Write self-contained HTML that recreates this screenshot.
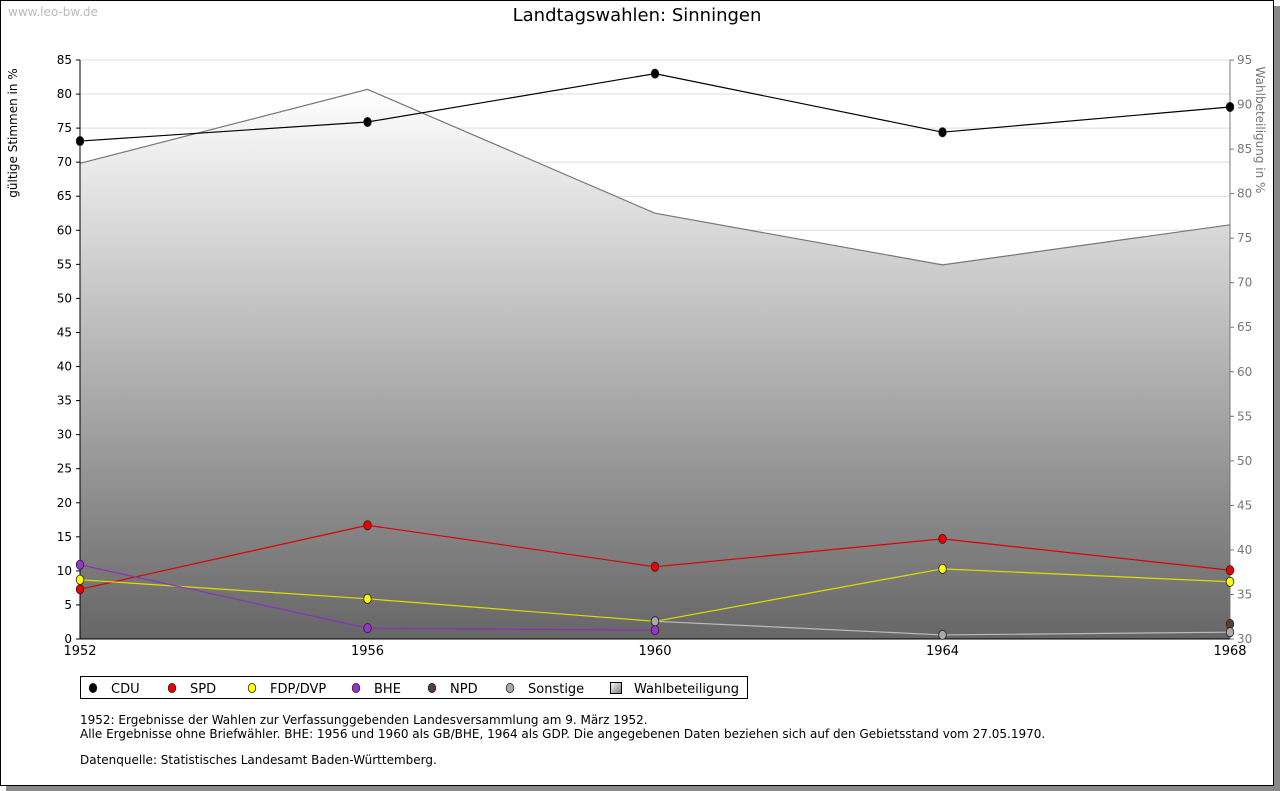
<!DOCTYPE html>
<html><head><meta charset="utf-8"><style>
body{margin:0;background:#fff;font-family:"DejaVu Sans","Liberation Sans",sans-serif;}
#frame{position:absolute;left:0;top:0;width:1272px;height:784px;border:1px solid #000;box-shadow:6px 6px 0 #888;background:#fff;}
</style></head><body>
<div id="frame"></div>
<svg id="c" width="1280" height="791" style="position:absolute;left:0;top:0" font-family="DejaVu Sans, Liberation Sans, sans-serif">
<defs><linearGradient id="g" x1="0" y1="0" x2="0" y2="1"><stop offset="0" stop-color="#ffffff"/><stop offset="1" stop-color="#666666"/></linearGradient>
<linearGradient id="lg" x1="0" y1="0" x2="1" y2="1"><stop offset="0" stop-color="#fff"/><stop offset="1" stop-color="#777"/></linearGradient></defs>
<text x="8" y="16" font-size="12" fill="#bbb">www.leo-bw.de</text>
<text x="637" y="21" font-size="18" text-anchor="middle" fill="#000">Landtagswahlen: Sinningen</text>
<text transform="translate(17,133) rotate(-90)" font-size="12" text-anchor="middle">gültige Stimmen in %</text>
<text transform="translate(1256,130) rotate(90)" font-size="12" text-anchor="middle" fill="#777">Wahlbeteiligung in %</text>
<g id="plot"></g>
<rect x="80.5" y="676.5" width="667" height="22" fill="#fff" stroke="#000"/>
<g id="leg"></g>
<text font-size="12" fill="#000"><tspan x="80" y="724">1952: Ergebnisse der Wahlen zur Verfassunggebenden Landesversammlung am 9. März 1952.</tspan><tspan x="80" y="738">Alle Ergebnisse ohne Briefwähler. BHE: 1956 und 1960 als GB/BHE, 1964 als GDP. Die angegebenen Daten beziehen sich auf den Gebietsstand vom 27.05.1970.</tspan><tspan x="80" y="764">Datenquelle: Statistisches Landesamt Baden-Württemberg.</tspan></text>
</svg>
<script>
const years=[1952,1956,1960,1964,1968];
const cdu=[73.1,75.9,83.0,74.4,78.1];
const spd=[7.3,16.7,10.6,14.7,10.1];
const fdp=[8.7,5.9,2.6,10.3,8.4];
const bhe=[10.9,1.6,1.3,null,null];
const npd=[null,null,null,null,2.2];
const sonst=[null,null,2.6,0.6,1.0];
const turnout=[83.4,91.7,77.8,72.0,76.5];
const leftTicks=[0,5,10,15,20,25,30,35,40,45,50,55,60,65,70,75,80,85];
const rightTicks=[30,35,40,45,50,55,60,65,70,75,80,85,90,95];
const NS='http://www.w3.org/2000/svg';
const X0=80,X1=1230,Y0=639,Y1=60;
const xs=y=>X0+(y-1952)/(1968-1952)*(X1-X0);
const yl=v=>Y0-v/85*(Y0-Y1);
const yr=v=>Y0-(v-30)/65*(Y0-Y1);
const P=document.getElementById('plot');
function mk(t,a,p){const e=document.createElementNS(NS,t);for(const k in a)e.setAttribute(k,a[k]);(p||P).appendChild(e);return e;}
leftTicks.forEach(v=>{if(v>0){const l=mk('line',{x1:X0,x2:X1,y1:yl(v),y2:yl(v),stroke:'#ddd'});

}
const t=mk('text',{x:72,y:yl(v)+4,'font-size':12,'text-anchor':'end'});t.textContent=v;


mk('line',{x1:X0-4,x2:X0,y1:yl(v),y2:yl(v),stroke:'#000'});});
rightTicks.forEach(v=>{const t=mk('text',{x:1237,y:yr(v)+4,'font-size':12,fill:'#777'});t.textContent=v;


mk('line',{x1:X1,x2:X1+4,y1:yr(v),y2:yr(v),stroke:'#777'});});
let d='M'+xs(years[0])+','+Y0;years.forEach((y,i)=>d+='L'+xs(y)+','+yr(turnout[i]));d+='L'+xs(1968)+','+Y0+'Z';
const a=mk('path',{d:d,fill:'url(#g)'});


let d2='';years.forEach((y,i)=>d2+=(i?'L':'M')+xs(y)+','+yr(turnout[i]));
mk('path',{d:d2,fill:'none',stroke:'#777','stroke-width':1.2});
mk('line',{x1:X0,x2:X0,y1:Y1,y2:Y0,stroke:'#000'});
mk('line',{x1:X1,x2:X1,y1:Y1,y2:Y0,stroke:'#777'});
mk('line',{x1:X0,x2:X1,y1:Y0,y2:Y0,stroke:'#000'});
years.forEach(y=>{const t=mk('text',{x:xs(y),y:655,'font-size':13,'text-anchor':'middle'});t.textContent=y;

});
const series=[['cdu',cdu,'#000','#000'],['spd',spd,'#d00','#e00'],['fdp',fdp,'#dd0','#ff0'],['bhe',bhe,'#8833bb','#9933cc'],['npd',npd,'#543','#5a4030'],['sonstige',sonst,'#bbb','#aaa']];
series.forEach(([n,vals,lc,fc])=>{let dd='';let st=false;vals.forEach((v,i)=>{if(v==null)return;dd+=(st?'L':'M')+xs(years[i])+','+yl(v);st=true;});
const l=mk('path',{d:dd,fill:'none',stroke:lc,'stroke-width':1.2});


vals.forEach((v,i)=>{if(v==null)return;const m=mk('ellipse',{cx:xs(years[i]),cy:yl(v),rx:3.8,ry:4.6,fill:fc,stroke:'#222','stroke-width':0.8});

});});
const L=document.getElementById('leg');
const legItems=[['CDU','#000',93],['SPD','#e00',172],['FDP/DVP','#ff0',252],['BHE','#9933cc',356],['NPD','#5a4030',432],['Sonstige','#aaa',510]];
legItems.forEach(([t,c,x])=>{const m=mk('ellipse',{cx:x,cy:688,rx:3.8,ry:4.6,fill:c,stroke:'#222','stroke-width':0.8},L);


const tx=mk('text',{x:x+18,y:693,'font-size':13},L);tx.textContent=t;

});
mk('rect',{x:610.5,y:682.5,width:11,height:11,fill:'url(#lg)',stroke:'#000'},L);
const tw=mk('text',{x:634,y:693,'font-size':13},L);tw.textContent='Wahlbeteiligung';


</script>
</body></html>
